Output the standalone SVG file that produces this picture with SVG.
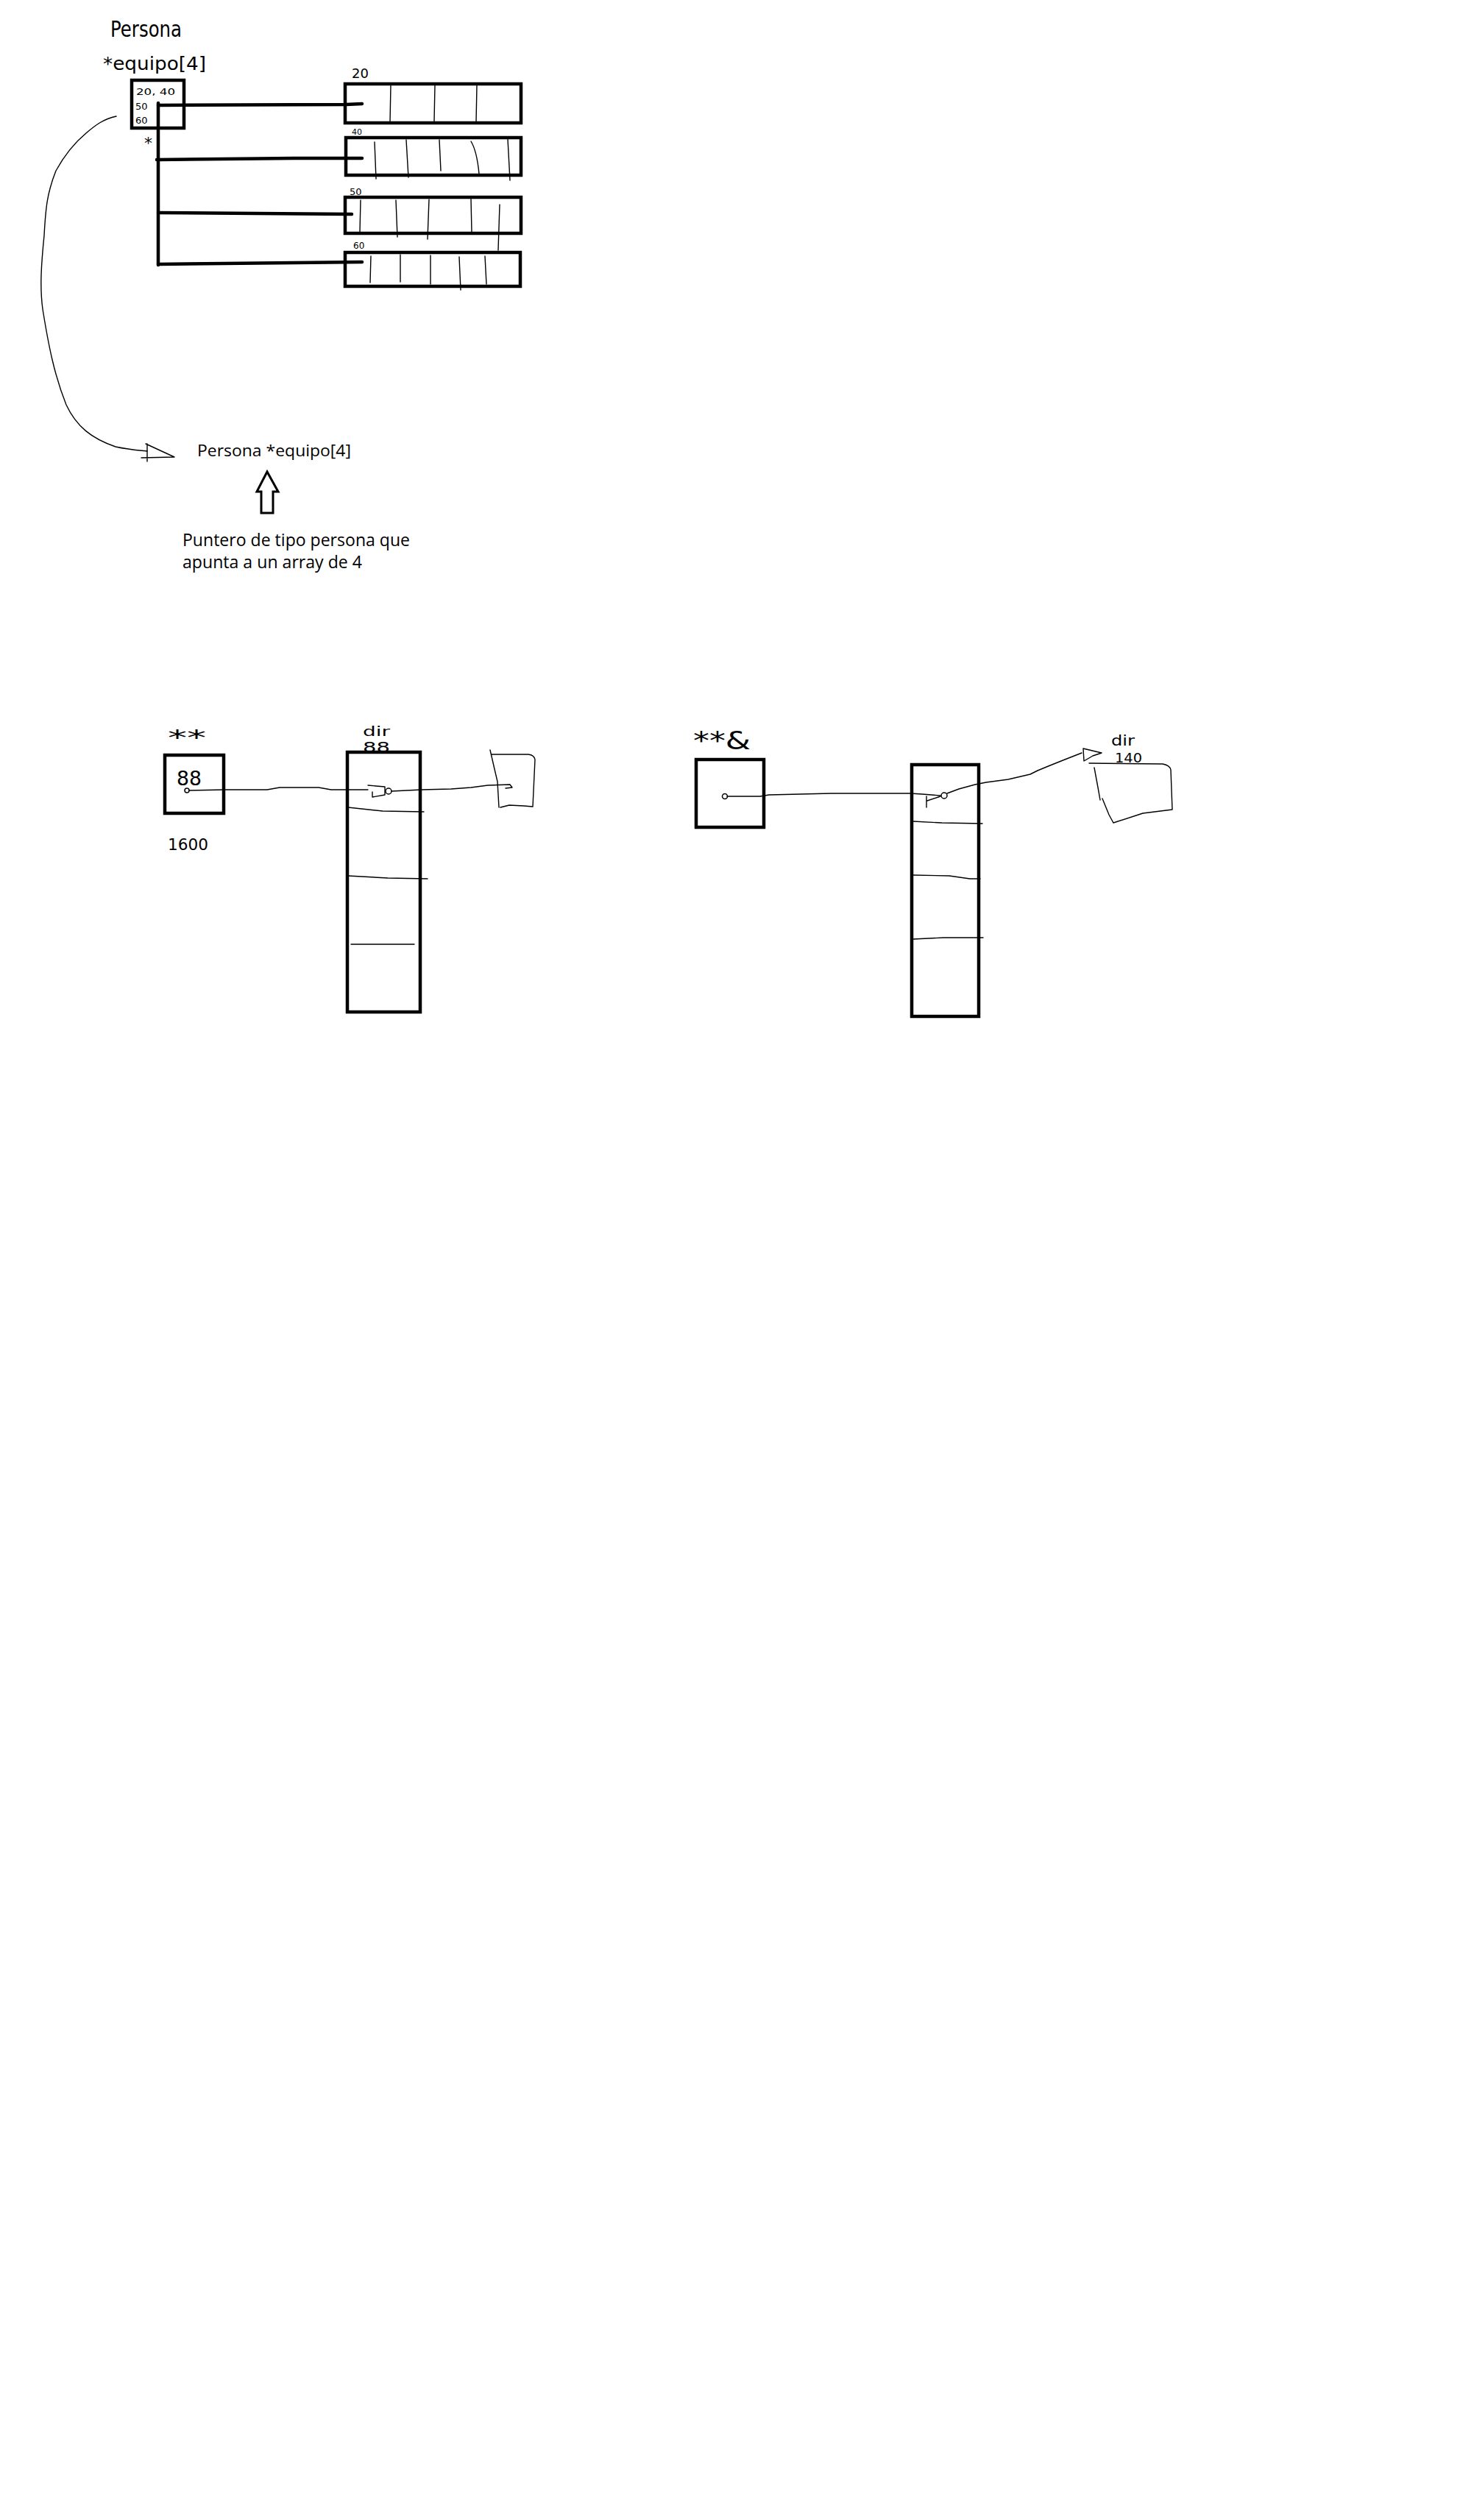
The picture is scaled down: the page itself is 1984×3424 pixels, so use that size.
<svg xmlns="http://www.w3.org/2000/svg" width="1984" height="3424" viewBox="0 0 1984 3424">
<style>
.bg{fill:#fff}
.box{fill:none;stroke:#000;stroke-width:4.5}
.thick{fill:none;stroke:#000;stroke-width:4.5;stroke-linecap:round;stroke-linejoin:round}
.thin{fill:none;stroke:#000;stroke-width:1.4;stroke-linejoin:round;stroke-linecap:round}
.hand{font-family:"DejaVu Sans",sans-serif;fill:#000;font-weight:normal}
.print{font-family:"Open Sans","Liberation Sans",sans-serif;fill:#000}
</style>
<rect class="bg" x="0" y="0" width="1984" height="3424"/>

<!-- Top diagram -->
<g id="persona-label">
<text class="hand" x="150" y="50" font-size="30" textLength="97" lengthAdjust="spacingAndGlyphs">Persona</text>
<text class="hand" x="140" y="95" font-size="24" textLength="140" lengthAdjust="spacingAndGlyphs">*equipo[4]</text>
</g>
<g id="pointer-box">
<rect class="box" x="179" y="109" width="71" height="65"/>
<text class="hand" x="185" y="129" font-size="12" textLength="53" lengthAdjust="spacingAndGlyphs">20, 40</text>
<text class="hand" x="184" y="149" font-size="13">50</text>
<text class="hand" x="184" y="168" font-size="13">60</text>
<text class="hand" x="196" y="202" font-size="22">*</text>
</g>
<g id="array-20">
<rect class="box" x="469" y="114" width="239" height="53"/>
<text class="hand" x="478" y="106" font-size="18">20</text>
<path class="thin" d="M531 116 L530 166 M591 116 L590 165 M648 116 L647 166"/>
</g>
<g id="array-40">
<rect class="box" x="470" y="187" width="238" height="51"/>
<text class="hand" x="478" y="183" font-size="11">40</text>
<path class="thin" d="M509 193 L511 243 M552 190 L555 241 M597 190 L599 232 M640 192 Q648 205 651 236 M690 189 L693 245"/>
</g>
<g id="array-50">
<rect class="box" x="469" y="268" width="239" height="49"/>
<text class="hand" x="475" y="265" font-size="13">50</text>
<path class="thin" d="M490 272 L489 315 M538 272 L540 322 M583 271 L581 325 M640 270 L641 315 M679 278 L677 340"/>
</g>
<g id="array-60">
<rect class="box" x="469" y="343" width="238" height="46"/>
<text class="hand" x="480" y="338" font-size="12">60</text>
<path class="thin" d="M504 348 L503 384 M544 346 L544 383 M585 347 L585 386 M624 349 L626 394 M659 348 L661 386"/>
</g>
<g id="label-text">
<text class="print" x="268" y="620" font-size="21" textLength="209" lengthAdjust="spacingAndGlyphs">Persona *equipo[4]</text>
<path id="up-arrow" d="M363 641 L349 668 L355 668 L355 697 L371 697 L371 668 L378 668 Z" fill="none" stroke="#000" stroke-width="3" stroke-linejoin="miter"/>
<text class="print" x="248" y="742" font-size="24" textLength="309" lengthAdjust="spacingAndGlyphs">Puntero de tipo persona que</text>
<text class="print" x="248" y="772" font-size="24" textLength="244" lengthAdjust="spacingAndGlyphs">apunta a un array de 4</text>
</g>

<!-- Bottom left -->
<g id="dptr-box">
<text class="hand" x="228" y="1012" font-size="28" textLength="52" lengthAdjust="spacingAndGlyphs">**</text>
<rect class="box" x="224" y="1026" width="80" height="79"/>
<text class="hand" x="240" y="1067" font-size="26" textLength="34" lengthAdjust="spacingAndGlyphs">88</text>
<text class="hand" x="228" y="1155" font-size="22" textLength="55" lengthAdjust="spacingAndGlyphs">1600</text>
</g>
<g id="dir-array-left">
<text class="hand" x="493" y="1000" font-size="18" textLength="37" lengthAdjust="spacingAndGlyphs">dir</text>
<text class="hand" x="493" y="1022" font-size="20" textLength="37" lengthAdjust="spacingAndGlyphs">88</text>
<rect class="box" x="472" y="1022" width="99" height="353"/>
<path class="thin" d="M473 1097 L520 1102 L576 1103 M473 1190 L527 1193 L581 1194 M477 1283 L563 1283"/>
</g>
<g id="target-left">
<path class="thin" d="M666 1019 L672 1045 L676 1062 L678 1097 M668 1025 L718 1025 Q726 1026 727 1032 L724 1096 L712 1095 L692 1094 L680 1097"/>
</g>

<!-- Bottom right -->
<g id="dptr-box-right">
<text class="hand" x="942" y="1018" font-size="34" textLength="78" lengthAdjust="spacingAndGlyphs">**&amp;</text>
<rect class="box" x="946" y="1032" width="92" height="92"/>
</g>
<g id="dir-array-right">
<rect class="box" x="1239" y="1039" width="91" height="342"/>
<path class="thin" d="M1241 1116 L1280 1118 L1335 1119 M1241 1189 L1290 1190 L1318 1194 L1332 1194 M1241 1276 L1282 1274 L1336 1274"/>
</g>
<g id="target-right">
<text class="hand" x="1510" y="1013" font-size="20" textLength="32" lengthAdjust="spacingAndGlyphs">dir</text>
<text class="hand" x="1515" y="1036" font-size="18" textLength="37" lengthAdjust="spacingAndGlyphs">140</text>
<path class="thin" d="M1480 1037 L1580 1038 Q1590 1040 1591 1046 L1593 1100 L1553 1105 L1513 1118 M1487 1043 L1492 1070 L1495 1087 M1498 1085 L1507 1107 L1513 1118"/>
</g>

<g id="connectors">
<path class="thick" d="M215 140 L215 360"/>
<path class="thick" d="M215 143 L470 142 L492 141"/>
<path class="thick" d="M213 217 L400 215 L492 215"/>
<path class="thick" d="M215 289 L478 291"/>
<path class="thick" d="M215 359 L400 357 L492 356"/>
<path class="thin" d="M158 158 C140 162 130 170 118 180 C100 195 88 210 76 232 C64 262 62 283 60 320 C56 360 54 390 58 420 C66 470 74 510 90 550 C104 580 125 596 157 607 C175 611 190 612 200 613"/>
<path class="thin" d="M198 603 L237 621 L192 622 M200 603 L200 627"/>
<circle cx="254" cy="1074" r="3" fill="none" stroke="#000" stroke-width="1.5"/>
<path class="thin" d="M257 1074 L306 1073 L363 1073 L380 1070 L433 1070 L450 1073 L500 1073"/>
<path class="thin" d="M500 1067 L523 1069 L523 1080 L506 1083 L506 1076"/>
<circle cx="528" cy="1075" r="4" fill="none" stroke="#000" stroke-width="1.5"/>
<path class="thin" d="M532 1075 L573 1073 L613 1072 L640 1070 L663 1067 L693 1066 L696 1070 L687 1071"/>
<circle cx="985" cy="1082" r="3.5" fill="none" stroke="#000" stroke-width="1.5"/>
<path class="thin" d="M988 1082 L1033 1082 L1045 1080 L1130 1078 L1140 1078 L1237 1078 L1253 1079 L1278 1081"/>
<path class="thin" d="M1259 1082 L1259 1097 M1260 1088 L1278 1082"/>
<circle cx="1283" cy="1081" r="4" fill="none" stroke="#000" stroke-width="1.5"/>
<path class="thin" d="M1287 1078 L1303 1072 L1325 1066 L1340 1063 L1370 1059 L1400 1052 L1410 1047 L1427 1040 L1447 1032 L1470 1023"/>
<path class="thin" d="M1472 1017 L1497 1023 L1485 1027 L1473 1034 Z"/>
</g>
</svg>
